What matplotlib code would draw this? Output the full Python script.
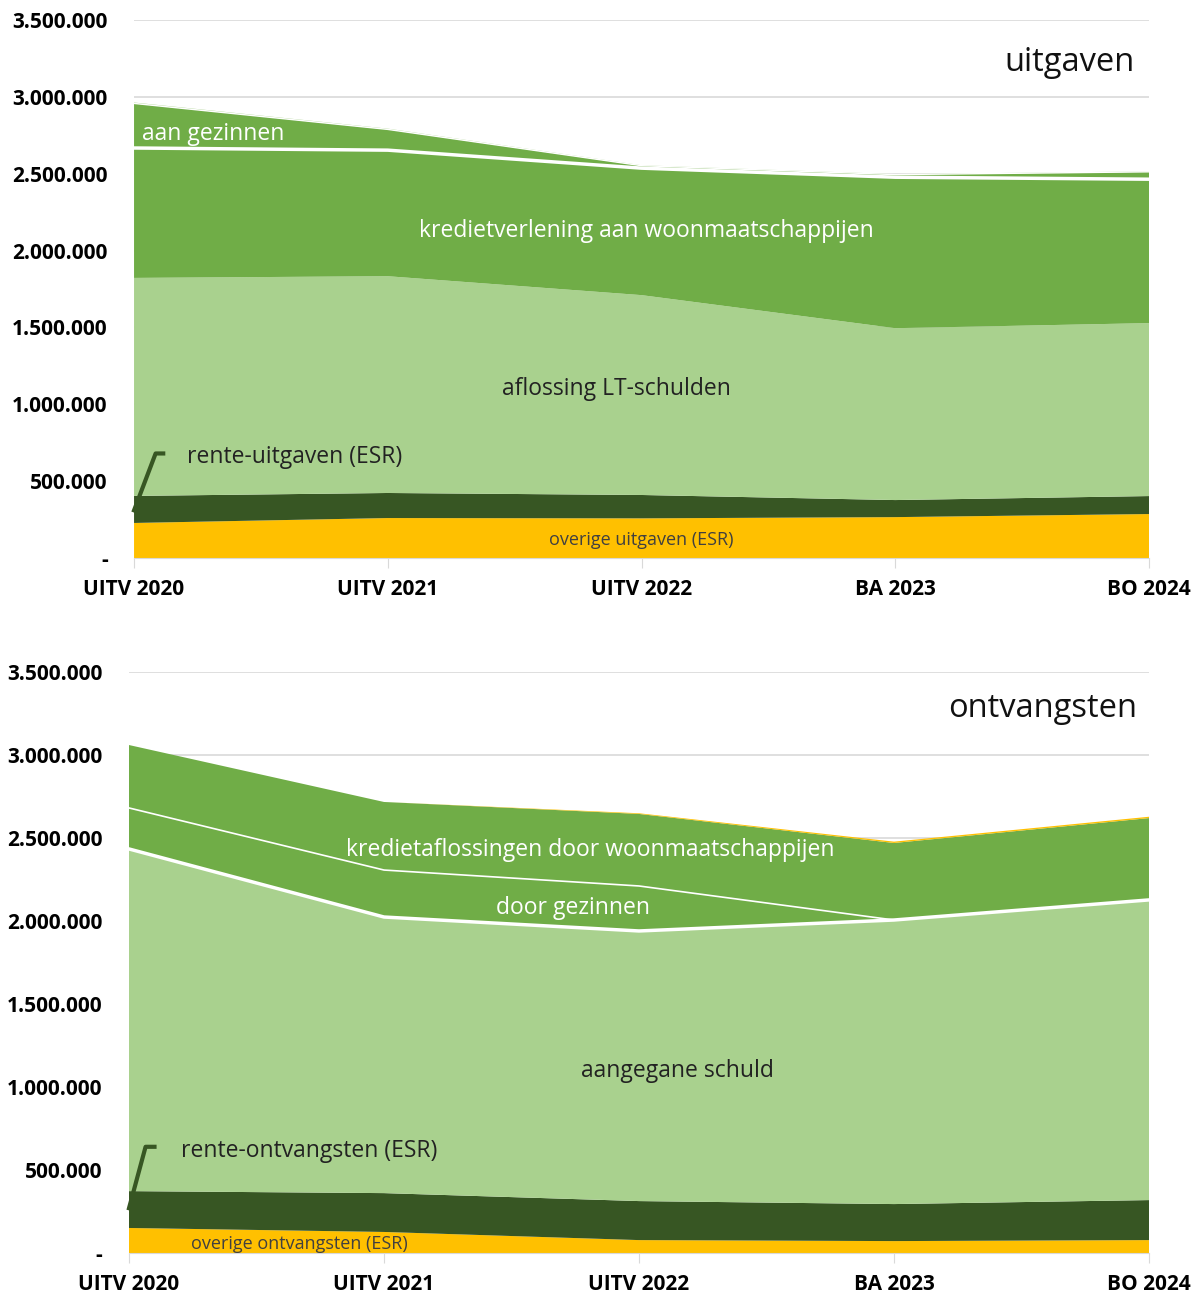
import matplotlib.pyplot as plt
from matplotlib.ticker import FuncFormatter

# x categories
years = ["UITV 2020", "UITV 2021", "UITV 2022", "BA 2023", "BO 2024"]

# uitgaven (stacked from bottom)
overige_uitgaven = [228000, 260000, 258000, 266000, 286000]
rente_uitgaven = [176000, 163000, 152000, 111000, 117000]
aflossing_lt = [1418000, 1410000, 1300000, 1118000, 1125000]
kredietverlening = [845000, 820000, 826000, 982000, 936000]
aan_gezinnen = [290000, 135000, 16000, 17000, 48000]
overig_uit = [6000, 5000, 3000, 3000, 3000]

# ontvangsten (stacked from bottom)
overige_ontvangsten = [151000, 127000, 78000, 72000, 78000]
rente_ontvangsten = [222000, 234000, 235000, 223000, 241000]
aangegane_schuld = [2061000, 1663000, 1627000, 1711000, 1808000]
door_gezinnen = [247000, 283000, 271000, 0, 0]
kredietaflossingen = [379000, 410000, 434000, 464000, 493000]
overig_ont = [0, 0, 4000, 8000, 8000]

YELLOW = "#FFC000"
DARK = "#375623"
LIGHT = "#A9D18E"
MID = "#70AD47"
GRID = "#D9D9D9"

plt.rcParams['font.family'] = ['Open Sans', 'DejaVu Sans']

LABEL_SIZE = 16.5
SMALL_SIZE = 13
TITLE_SIZE = 23.5
TICK_SIZE = 15


def fmt(v, pos):
    if v == 0:
        return "-"
    return f"{int(v):,}".replace(",", ".")


def cumulate(series):
    tops = []
    run = [0] * len(series[0])
    for s in series:
        run = [a + b for a, b in zip(run, s)]
        tops.append(run)
    return tops


def setup(ax):
    ax.set_xlim(0, len(years) - 1)
    ax.set_ylim(0, 3500000)
    ax.set_yticks(range(0, 3500001, 500000))
    ax.yaxis.set_major_formatter(FuncFormatter(fmt))
    ax.set_xticks(range(len(years)))
    ax.set_xticklabels(years)
    ax.grid(axis='y', color=GRID, lw=1.2)
    ax.set_axisbelow(True)
    for s in ["top", "right", "left"]:
        ax.spines[s].set_visible(False)
    ax.spines["bottom"].set_color(GRID)
    ax.tick_params(axis='y', length=0, pad=19, labelsize=TICK_SIZE)
    ax.tick_params(axis='x', length=7, color=GRID, pad=8, labelsize=TICK_SIZE)
    for lab in ax.get_xticklabels() + ax.get_yticklabels():
        lab.set_fontweight('bold')


fig = plt.figure(figsize=(12, 12.95), dpi=100)
x = list(range(len(years)))

# ---- uitgaven ----
ax1 = fig.add_axes([0.1117, 0.5691, 0.8458, 0.4155])
series1 = [overige_uitgaven, rente_uitgaven, aflossing_lt, kredietverlening, aan_gezinnen, overig_uit]
ax1.stackplot(x, series1, colors=[YELLOW, DARK, LIGHT, MID, MID, LIGHT], lw=0)
tops1 = cumulate(series1)
ax1.plot(x, tops1[3], color="white", lw=2.5)
ax1.plot(x, tops1[4], color="white", lw=1)
setup(ax1)

ax1.text(0.986, 0.92, "uitgaven", transform=ax1.transAxes, ha='right', va='center', fontsize=TITLE_SIZE, color="#111111")
ax1.text(0.03, 2760000, "aan gezinnen", ha='left', va='center', fontsize=LABEL_SIZE, color="white")
ax1.text(2.02, 2130000, "kredietverlening aan woonmaatschappijen", ha='center', va='center', fontsize=LABEL_SIZE, color="white")
ax1.text(1.90, 1100000, "aflossing LT-schulden", ha='center', va='center', fontsize=LABEL_SIZE, color="#222222")
ax1.text(0.21, 655000, "rente-uitgaven (ESR)", ha='left', va='center', fontsize=LABEL_SIZE, color="#222222")
ax1.text(2.0, 115000, "overige uitgaven (ESR)", ha='center', va='center', fontsize=SMALL_SIZE, color="#404040")
ax1.plot([0.0, 0.085, 0.115], [310000, 680000, 680000], color=DARK, lw=3, clip_on=False)

# ---- ontvangsten ----
ax2 = fig.add_axes([0.1075, 0.0324, 0.85, 0.4487])
series2 = [overige_ontvangsten, rente_ontvangsten, aangegane_schuld, door_gezinnen, kredietaflossingen, overig_ont]
ax2.stackplot(x, series2, colors=[YELLOW, DARK, LIGHT, MID, MID, YELLOW], lw=0)
tops2 = cumulate(series2)
ax2.plot(x, tops2[2], color="white", lw=2.5)
ax2.plot(x, tops2[3], color="white", lw=1.2)
setup(ax2)

ax2.text(0.988, 0.938, "ontvangsten", transform=ax2.transAxes, ha='right', va='center', fontsize=TITLE_SIZE, color="#111111")
ax2.text(1.81, 2428000, "kredietaflossingen door woonmaatschappijen", ha='center', va='center', fontsize=LABEL_SIZE, color="white")
ax2.text(1.74, 2078000, "door gezinnen", ha='center', va='center', fontsize=LABEL_SIZE, color="white")
ax2.text(2.15, 1098000, "aangegane schuld", ha='center', va='center', fontsize=LABEL_SIZE, color="#222222")
ax2.text(0.205, 612000, "rente-ontvangsten (ESR)", ha='left', va='center', fontsize=LABEL_SIZE, color="#222222")
ax2.text(0.67, 55000, "overige ontvangsten (ESR)", ha='center', va='center', fontsize=SMALL_SIZE, color="#404040")
ax2.plot([0.0, 0.065, 0.1], [270000, 640000, 640000], color=DARK, lw=3, clip_on=False)

fig.savefig("out.png", dpi=100)
